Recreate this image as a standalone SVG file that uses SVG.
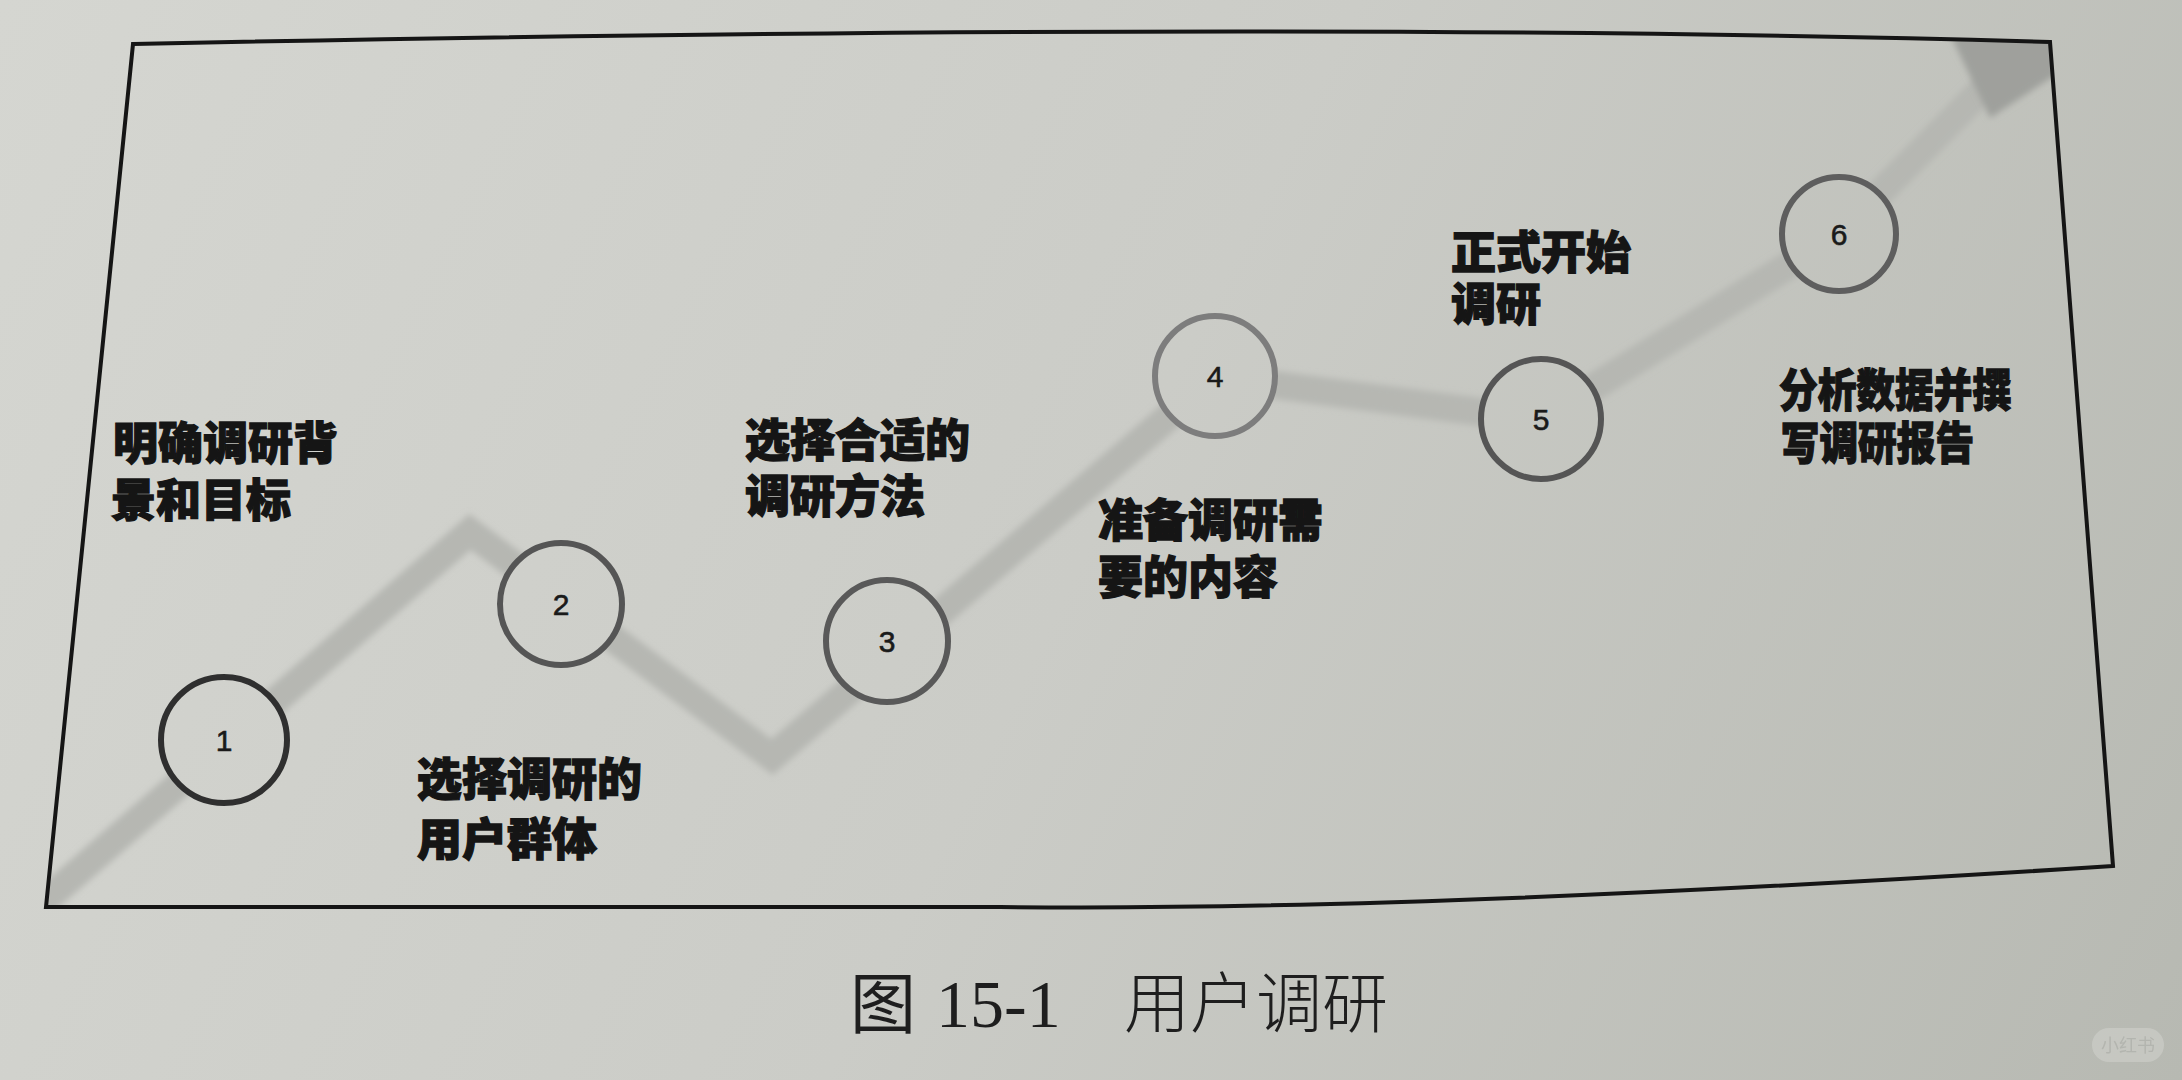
<svg xmlns="http://www.w3.org/2000/svg" width="2182" height="1080" viewBox="0 0 2182 1080">
  <defs>
    <linearGradient id="paper" gradientUnits="userSpaceOnUse" x1="0" y1="0" x2="2182" y2="1080">
      <stop offset="0" stop-color="#d5d6d1"/>
      <stop offset="0.5" stop-color="#cbccc7"/>
      <stop offset="1" stop-color="#b7b9b2"/>
    </linearGradient>
    <clipPath id="frameClip">
      <path d="M133,44 Q1300,20 2050,42 L2113,866 Q1400,912 1000,907 L46,907 Z"/>
    </clipPath>
    <filter id="soft" x="-5%" y="-5%" width="110%" height="110%">
      <feGaussianBlur stdDeviation="3"/>
    </filter>
    <style>
      .lbl { font-family: "Noto Sans CJK SC", "Noto Sans", sans-serif; font-weight: 900; font-size: 45px; fill: #151515; stroke: #151515; stroke-width: 1.3px; }
      .num { font-family: "Liberation Sans", Arial, sans-serif; font-size: 30px; fill: #1a1a1a; stroke: #1a1a1a; stroke-width: 0.6px; text-anchor: middle; }
      .ring { fill: url(#paper); stroke-width: 6; }
      .cap { font-family: "Noto Sans CJK SC", sans-serif; font-size: 66px; fill: #1e1e1e; }
      .capnum { font-family: "Liberation Serif", "Times New Roman", serif; font-size: 68px; fill: #1e1e1e; }
    </style>
  </defs>

  <rect x="0" y="0" width="2182" height="1080" fill="url(#paper)"/>

  <g id="connectors" clip-path="url(#frameClip)">
    <polyline points="40,905 470,532 772,757 1215,377 1541,420 1839,234 1990,82" fill="none" stroke="#b6b7b2" stroke-width="28" stroke-linejoin="miter" filter="url(#soft)"/>
    <polygon points="1950,34 2060,34 2060,72 1990,118" fill="#9fa09c" filter="url(#soft)"/>
  </g>

  <path id="frame" d="M133,44 Q1300,20 2050,42 L2113,866 Q1400,912 1000,907 L46,907 Z" fill="none" stroke="#151515" stroke-width="4" stroke-linejoin="miter"/>

  <g id="node1">
    <circle class="ring" cx="224" cy="740" r="63" stroke="#2f2f2f"/>
    <text class="num" x="224" y="751">1</text>
    <text class="lbl" x="113" y="460">明确调研背<tspan x="111" dy="57">景和目标</tspan></text>
  </g>
  <g id="node2">
    <circle class="ring" cx="561" cy="604" r="61" stroke="#555"/>
    <text class="num" x="561" y="615">2</text>
    <text class="lbl" x="417" y="796">选择调研的<tspan x="417" dy="60">用户群体</tspan></text>
  </g>
  <g id="node3">
    <circle class="ring" cx="887" cy="641" r="61" stroke="#595959"/>
    <text class="num" x="887" y="652">3</text>
    <text class="lbl" x="745" y="457">选择合适的<tspan x="745" dy="56">调研方法</tspan></text>
  </g>
  <g id="node4">
    <circle class="ring" cx="1215" cy="376" r="60" stroke="#7d7d7d"/>
    <text class="num" x="1215" y="387">4</text>
    <text class="lbl" x="1098" y="537">准备调研需<tspan x="1098" dy="57">要的内容</tspan></text>
  </g>
  <g id="node5">
    <circle class="ring" cx="1541" cy="419" r="60" stroke="#555"/>
    <text class="num" x="1541" y="430">5</text>
    <text class="lbl" x="1451" y="269">正式开始<tspan x="1451" dy="52">调研</tspan></text>
  </g>
  <g id="node6">
    <circle class="ring" cx="1839" cy="234" r="57" stroke="#5e5e5e"/>
    <text class="num" x="1839" y="245">6</text>
    <text class="lbl" transform="translate(1779,0) scale(0.86,1)" x="0" y="407">分析数据并撰<tspan x="2" dy="53">写调研报告</tspan></text>
  </g>

  <g id="caption">
    <text class="cap" x="850" y="1028">图</text>
    <text class="capnum" x="936" y="1027">15-1</text>
    <text class="cap" x="1124" y="1027" font-weight="300">用户调研</text>
  </g>

  <g id="watermark" opacity="0.55">
    <rect x="2092" y="1028" width="72" height="34" rx="17" fill="#d2d3ce"/>
    <text x="2128" y="1052" font-family="Noto Sans CJK SC, sans-serif" font-size="18" fill="#b0b1ac" text-anchor="middle">小红书</text>
  </g>
</svg>
